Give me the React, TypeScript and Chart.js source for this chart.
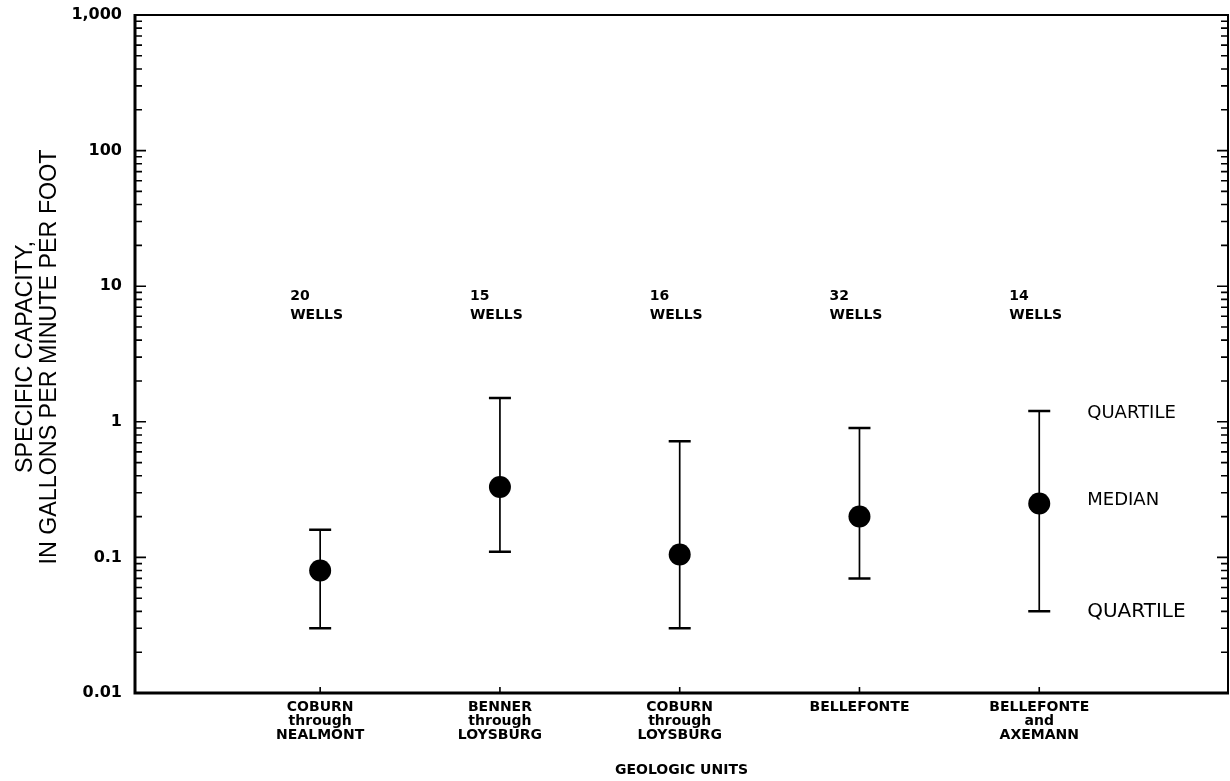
import React, { useEffect, useRef } from "react";
import { Chart, registerables } from "chart.js";

Chart.register(...registerables);

// ---- data ----
const categoryLines: string[][] = [
  ["COBURN", "through", "NEALMONT"],
  ["BENNER", "through", "LOYSBURG"],
  ["COBURN", "through", "LOYSBURG"],
  ["BELLEFONTE"],
  ["BELLEFONTE", "and", "AXEMANN"],
];
const wellCounts = [20, 15, 16, 32, 14];
const medians = [0.08, 0.33, 0.105, 0.2, 0.25];
const upperQuartiles = [0.16, 1.5, 0.72, 0.9, 1.2];
const lowerQuartiles = [0.03, 0.11, 0.03, 0.07, 0.04];
const decadeValues = [0.01, 0.1, 1, 10, 100, 1000];
const decadeLabels = ["0.01", "0.1", "1", "10", "100", "1,000"];
const legendLabels = ["QUARTILE", "MEDIAN", "QUARTILE"];
const wellsAnchorValue = 10;

const yTitle = ["SPECIFIC CAPACITY,", "IN GALLONS PER MINUTE PER FOOT"];
const xTitle = "GEOLOGIC UNITS";

const BOLD = "'DejaVu Sans', sans-serif";

const overlay = {
  id: "overlay",
  beforeDatasetsDraw(chart: any) {
    const { ctx, scales } = chart;
    const x = scales.x;
    const y = scales.y;
    ctx.save();
    ctx.strokeStyle = "#000";
    categoryLines.forEach((_, i) => {
      const px = x.getPixelForValue(i);
      const yHi = y.getPixelForValue(upperQuartiles[i]);
      const yLo = y.getPixelForValue(lowerQuartiles[i]);
      ctx.lineWidth = 1.7;
      ctx.beginPath();
      ctx.moveTo(px, yHi);
      ctx.lineTo(px, yLo);
      ctx.stroke();
      ctx.lineWidth = 2.5;
      ctx.beginPath();
      ctx.moveTo(px - 11, yHi);
      ctx.lineTo(px + 11, yHi);
      ctx.moveTo(px - 11, yLo);
      ctx.lineTo(px + 11, yLo);
      ctx.stroke();
    });
    ctx.restore();
  },
  afterDraw(chart: any) {
    const { ctx, chartArea, scales } = chart;
    const { left, right, top, bottom } = chartArea;
    const x = scales.x;
    const y = scales.y;
    ctx.save();
    ctx.strokeStyle = "#000";
    // inward y ticks, both sides
    ctx.lineWidth = 1.6;
    for (let d = 0; d < decadeValues.length; d++) {
      for (let k = 1; k <= 9; k++) {
        if (d === decadeValues.length - 1 && k > 1) break;
        const v = decadeValues[d] * k;
        const py = y.getPixelForValue(v);
        const len = k === 1 ? 11 : 7;
        ctx.beginPath();
        ctx.moveTo(left, py);
        ctx.lineTo(left + len, py);
        ctx.moveTo(right, py);
        ctx.lineTo(right - len, py);
        ctx.stroke();
      }
    }
    // x ticks (inward, upward)
    categoryLines.forEach((_, i) => {
      const px = x.getPixelForValue(i);
      ctx.beginPath();
      ctx.moveTo(px, bottom);
      ctx.lineTo(px, bottom - 6);
      ctx.stroke();
    });
    // frame
    ctx.lineWidth = 2;
    ctx.beginPath();
    ctx.moveTo(left, top);
    ctx.lineTo(right, top);
    ctx.lineTo(right, bottom);
    ctx.stroke();
    ctx.lineWidth = 3;
    ctx.beginPath();
    ctx.moveTo(left, top - 1);
    ctx.lineTo(left, bottom);
    ctx.lineTo(right + 1, bottom);
    ctx.stroke();

    ctx.fillStyle = "#000";
    // y axis title (rotated, slightly condensed)
    ctx.save();
    ctx.font = "24px 'Liberation Sans', Arial, sans-serif";
    const longW = ctx.measureText(yTitle[1]).width;
    const sx = 415 / longW;
    const cy = (top + bottom) / 2 + 3;
    [25, 49].forEach((tx, li) => {
      ctx.save();
      ctx.translate(tx, cy);
      ctx.rotate(-Math.PI / 2);
      ctx.scale(sx, 1);
      ctx.textAlign = "center";
      ctx.textBaseline = "middle";
      ctx.fillText(yTitle[li], 0, 0);
      ctx.restore();
    });
    ctx.restore();

    // well counts
    ctx.font = `bold 14px ${BOLD}`;
    ctx.textAlign = "left";
    ctx.textBaseline = "middle";
    const baseY = y.getPixelForValue(wellsAnchorValue);
    categoryLines.forEach((_, i) => {
      const px = x.getPixelForValue(i) - 30;
      ctx.fillText(String(wellCounts[i]), px, baseY + 10);
      ctx.fillText("WELLS", px, baseY + 29);
    });

    // legend-like labels beside the last category
    const last = categoryLines.length - 1;
    const lx = x.getPixelForValue(last) + 48;
    ctx.font = `18px 'DejaVu Sans', sans-serif`;
    ctx.fillText(legendLabels[0], lx, y.getPixelForValue(upperQuartiles[last]) + 2);
    ctx.fillText(legendLabels[1], lx, y.getPixelForValue(medians[last]) - 3);
    ctx.font = `20px 'DejaVu Sans', sans-serif`;
    ctx.fillText(legendLabels[2], lx, y.getPixelForValue(lowerQuartiles[last]));
    ctx.restore();
  },
};

export default function App() {
  const canvasRef = useRef<HTMLCanvasElement | null>(null);

  useEffect(() => {
    if (!canvasRef.current) return;
    const chart = new Chart(canvasRef.current, {
      type: "scatter",
      data: {
        datasets: [
          {
            data: medians.map((m, i) => ({ x: i, y: m })),
            pointRadius: 11,
            pointHoverRadius: 11,
            backgroundColor: "#000",
            borderColor: "#000",
            borderWidth: 0,
          },
        ],
      },
      options: {
        animation: false,
        responsive: true,
        maintainAspectRatio: false,
        events: [],
        layout: { autoPadding: false, padding: { top: 15, right: 2, left: 0, bottom: 0 } },
        plugins: { legend: { display: false }, tooltip: { enabled: false }, title: { display: false } },
        scales: {
          x: {
            type: "linear",
            min: -1.03,
            max: 5.05,
            grid: { display: false, drawTicks: false },
            border: { display: false },
            afterBuildTicks: (scale: any) => {
              scale.ticks = categoryLines.map((_, i) => ({ value: i }));
            },
            afterFit: (scale: any) => {
              scale.height = 88;
              scale.paddingLeft = 0;
              scale.paddingRight = 0;
            },
            ticks: {
              autoSkip: false,
              maxRotation: 0,
              padding: 7,
              color: "#000",
              font: { family: BOLD, weight: "bold", size: 14, lineHeight: 1.0 },
              callback: (v: any) => categoryLines[Number(v)] ?? "",
            },
            title: {
              display: true,
              text: xTitle,
              color: "#000",
              font: { family: BOLD, weight: "bold", size: 14, lineHeight: 1.0 },
              padding: { top: 0, bottom: 4 },
            },
          },
          y: {
            type: "logarithmic",
            min: 0.01,
            max: 1000,
            grid: { display: false, drawTicks: false },
            border: { display: false },
            afterBuildTicks: (scale: any) => {
              scale.ticks = decadeValues.map((v) => ({ value: v }));
            },
            afterFit: (scale: any) => {
              scale.width = 135;
              scale.paddingTop = 0;
              scale.paddingBottom = 0;
            },
            ticks: {
              autoSkip: false,
              padding: 13,
              color: "#000",
              font: { family: BOLD, weight: "bold", size: 16 },
              callback: (v: any) => {
                const idx = decadeValues.findIndex((d) => Math.abs(d - Number(v)) / d < 1e-6);
                return idx >= 0 ? decadeLabels[idx] : "";
              },
            },
            title: { display: false },
          },
        },
      },
      plugins: [overlay],
    });
    return () => chart.destroy();
  }, []);

  return (
    <div style={{ position: "fixed", left: 0, top: 0, width: 1230, height: 781, background: "#fff" }}>
      <canvas ref={canvasRef} />
    </div>
  );
}
